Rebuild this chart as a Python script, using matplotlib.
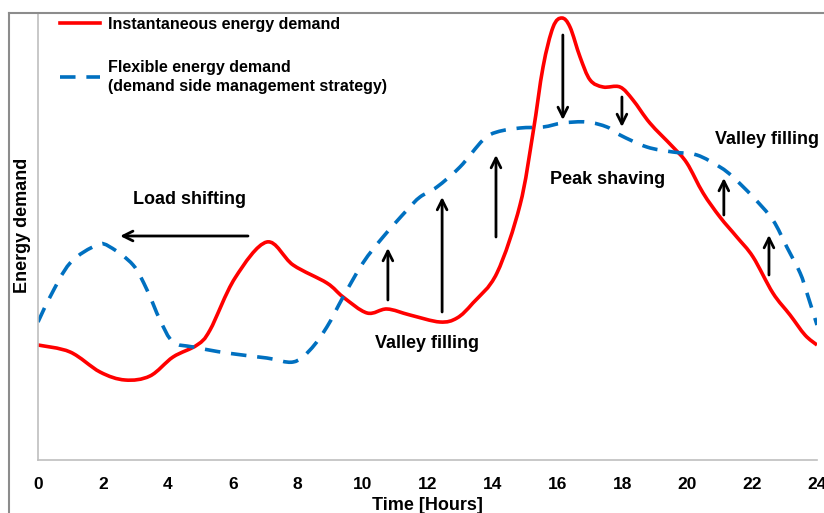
import matplotlib
matplotlib.use("Agg")
import numpy as np
import matplotlib.pyplot as plt
from matplotlib.lines import Line2D
from matplotlib.path import Path
from matplotlib.patches import PathPatch

plt.rcParams['font.family'] = ['Liberation Sans', 'DejaVu Sans']
plt.rcParams['font.weight'] = 'bold'

# instantaneous demand (red)
red_hours = [0.00, 0.99, 1.91, 2.68, 3.45, 4.16, 4.90, 5.30, 6.07, 7.05, 7.86, 8.90,
             9.40, 10.14, 10.75, 11.46, 12.38, 12.91, 13.40, 14.14, 14.85, 15.25,
             15.56, 15.87, 16.14, 16.39, 16.70, 17.01, 17.41, 17.93, 18.33, 18.85,
             19.56, 19.99, 20.49, 21.01, 21.53, 22.03, 22.64, 23.17, 23.63, 24.00]
red_demand = [115, 108, 88, 80, 84, 103, 115, 130, 182, 218, 195, 177,
              163, 147, 151, 145, 138, 142, 157, 187, 255, 327,
              393, 433, 442, 433, 403, 380, 373, 373, 360, 337,
              313, 297, 267, 243, 223, 203, 167, 145, 125, 115]

# flexible demand (blue dashed)
blue_hours = [0.00, 0.37, 0.99, 1.82, 2.22, 2.93, 3.36, 3.76, 4.16, 4.78, 5.82, 7.05,
              7.86, 8.38, 8.90, 9.40, 10.01, 10.63, 11.37, 11.77, 12.29, 13.00,
              13.71, 14.14, 14.85, 15.56, 16.17, 16.91, 17.53, 17.93, 18.76, 19.56,
              20.30, 21.01, 21.41, 22.03, 22.64, 23.07, 23.48, 23.69, 24.00]
blue_demand = [138, 163, 197, 215, 213, 195, 170, 140, 118, 113, 107, 102,
               98, 110, 133, 163, 197, 223, 250, 263, 273, 293,
               320, 328, 332, 333, 337, 338, 333, 325, 313, 308,
               305, 293, 283, 263, 240, 213, 187, 167, 135]

# vertical arrows: hour, tail, tip
arrow_hours = [10.78, 12.45, 14.11, 16.17, 17.99, 21.13, 22.52]
arrow_tail = [160, 148, 223, 425, 363, 245, 185]
arrow_tip = [212, 263, 305, 340, 333, 282, 225]

labels = ['Load shifting', 'Valley filling', 'Peak shaving', 'Valley filling']
label_x = [4.68, 11.98, 17.56, 22.46]
label_y = [260, 117, 281, 320]

RED = '#ff0000'
BLUE = '#0070c0'
DASH = (0, (4.3, 3.0))


def smooth_path(xs, ys):
    # catmull-rom through the points, as cubic bezier segments
    p = np.column_stack([xs, ys]).astype(float)
    p = np.vstack([p[0], p, p[-1]])
    verts = [p[1]]
    codes = [Path.MOVETO]
    for i in range(1, len(p) - 2):
        c1 = p[i] + (p[i + 1] - p[i - 1]) / 6
        c2 = p[i + 1] - (p[i + 2] - p[i]) / 6
        verts += [c1, c2, p[i + 1]]
        codes += [Path.CURVE4] * 3
    return Path(verts, codes)


fig = plt.figure(figsize=(8.24, 5.13), dpi=100)
ax = fig.add_axes([38/824, 1 - 460/513, (817 - 38)/824, (460 - 13)/513])

ax.add_patch(PathPatch(smooth_path(red_hours, red_demand), fill=False,
                       edgecolor=RED, lw=2.6, joinstyle='round'))
ax.add_patch(PathPatch(smooth_path(blue_hours, blue_demand), fill=False,
                       edgecolor=BLUE, lw=2.6, linestyle=DASH))

ax.set_xlim(0, 24)
ax.set_ylim(0, 447)
ax.set_xticks(range(0, 25, 2))
ax.set_yticks([])
ax.tick_params(axis='x', length=0, labelsize=12.5, pad=12)
for s in ['top', 'right']:
    ax.spines[s].set_visible(False)
for s in ['left', 'bottom']:
    ax.spines[s].set_color('#bfbfbf')
    ax.spines[s].set_linewidth(1.2)

ax.set_xlabel('Time [Hours]', fontsize=13, fontweight='bold', labelpad=4)
ax.set_ylabel('Energy demand', fontsize=13, fontweight='bold')
ax.yaxis.set_label_coords((31 - 38) / 779, (460 - 225) / 447)

head = '->,head_length=0.7,head_width=0.35'
# load shifting arrow
ax.annotate('', xy=(2.53, 224), xytext=(6.47, 224),
            arrowprops=dict(arrowstyle=head, lw=2, color='k', shrinkA=0, shrinkB=0))
for h, t0, t1 in zip(arrow_hours, arrow_tail, arrow_tip):
    ax.annotate('', xy=(h, t1), xytext=(h, t0),
                arrowprops=dict(arrowstyle=head, lw=2, color='k', shrinkA=0, shrinkB=0))

for txt, x, y in zip(labels, label_x, label_y):
    ax.text(x, y, txt, ha='center', va='center', fontsize=13, fontweight='bold')

handles = [Line2D([], [], color=RED, lw=2.6),
           Line2D([], [], color=BLUE, lw=2.6, linestyle=DASH)]
names = ['Instantaneous energy demand',
         'Flexible energy demand\n(demand side management strategy)']
leg = ax.legend(handles, names, loc='upper left', bbox_to_anchor=(60/824, 1 - 17/513),
                bbox_transform=fig.transFigure, frameon=False, fontsize=11.5,
                handlelength=2.5, handletextpad=0.5, labelspacing=1.75,
                borderpad=0, borderaxespad=0)
for t in leg.get_texts():
    t.set_fontweight('bold')
    t.set_linespacing(1.3)

# outer chart frame
fy = 1 - 13/513
fig.add_artist(Line2D([9/824, 9/824], [0, fy], transform=fig.transFigure,
                      color='#8c8c8c', lw=1.5))
fig.add_artist(Line2D([9/824, 1], [fy, fy], transform=fig.transFigure,
                      color='#8c8c8c', lw=1.5))

fig.savefig('out.png', dpi=100)
